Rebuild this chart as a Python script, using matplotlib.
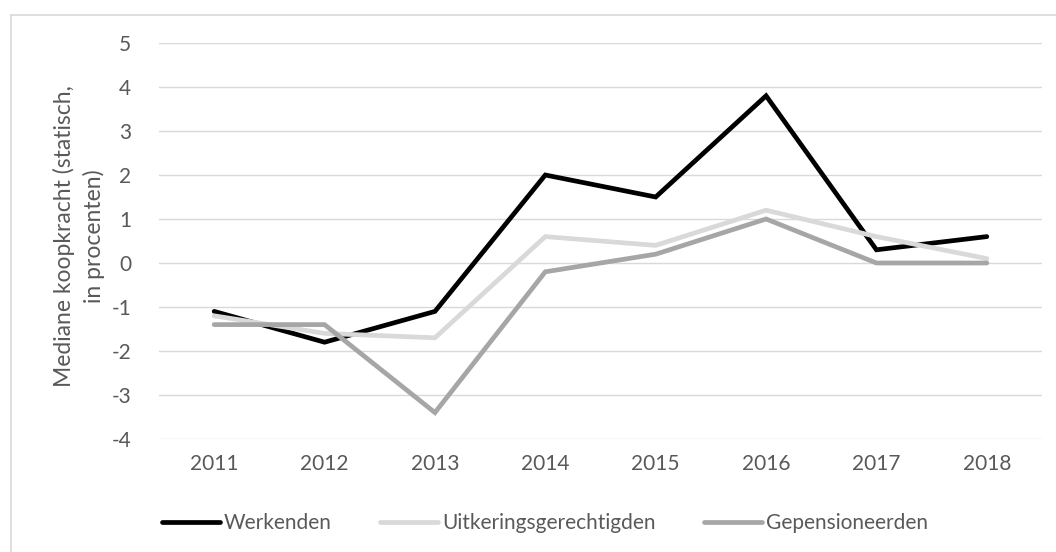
import matplotlib
matplotlib.use("Agg")
import matplotlib.pyplot as plt
from matplotlib.lines import Line2D

years = ["2011", "2012", "2013", "2014", "2015", "2016", "2017", "2018"]
werkenden = [-1.1, -1.8, -1.1, 2.0, 1.5, 3.8, 0.3, 0.6]
uitkeringsgerechtigden = [-1.2, -1.6, -1.7, 0.6, 0.4, 1.2, 0.6, 0.1]
gepensioneerden = [-1.4, -1.4, -3.4, -0.2, 0.2, 1.0, 0.0, 0.0]
series_names = ["Werkenden", "Uitkeringsgerechtigden", "Gepensioneerden"]
colors = ["#000000", "#d9d9d9", "#a6a6a6"]
yticks = [-4, -3, -2, -1, 0, 1, 2, 3, 4, 5]

plt.rcParams['font.family'] = ['Lato', 'DejaVu Sans']
txt = "#595959"

W, H = 1056, 552
fig = plt.figure(figsize=(W / 100, H / 100), dpi=100)
ax = fig.add_axes([159 / W, 1 - 439 / H, (1042 - 159) / W, (439 - 43) / H])

x = list(range(len(years)))
for vals, name, c in zip([werkenden, uitkeringsgerechtigden, gepensioneerden], series_names, colors):
    ax.plot(x, vals, color=c, lw=3.4, label=name, solid_joinstyle='miter', solid_capstyle='round', zorder=3)

ax.set_xlim(-0.5, len(years) - 0.5)
ax.set_ylim(-4, 5)
ax.set_yticks(yticks)
ax.set_yticklabels([str(v) for v in yticks])
ax.set_xticks(x)
ax.set_xticklabels(years)
ax.grid(axis='y', color='#d9d9d9', lw=1.0, zorder=0)
ax.grid(axis='x', visible=False)
for s in ax.spines.values():
    s.set_visible(False)
ax.tick_params(axis='both', length=0, colors=txt, labelsize=15)
ax.tick_params(axis='y', pad=20)
ax.tick_params(axis='x', pad=11)

fig.text(79 / W, 1 - 236 / H, "Mediane koopkracht (statisch,\nin procenten)", rotation=90,
         ha='center', va='center', multialignment='center', fontsize=16.5, color=txt,
         linespacing=1.45)

handles = [Line2D([], [], color=c, lw=3.4, solid_capstyle='round') for c in colors]
leg = fig.legend(handles, series_names, loc='center', bbox_to_anchor=(545 / W, 1 - 523 / H),
                 ncol=3, frameon=False, fontsize=15, handlelength=2.8, handletextpad=0.2,
                 columnspacing=2.3, labelcolor=txt)

# chart border (left and top visible)
fig.add_artist(Line2D([11 / W, 11 / W], [0, 1 - 15 / H], transform=fig.transFigure, color='#d9d9d9', lw=1.2))
fig.add_artist(Line2D([11 / W, 1], [1 - 15 / H, 1 - 15 / H], transform=fig.transFigure, color='#d9d9d9', lw=1.2))

fig.savefig("out.png", dpi=100)
